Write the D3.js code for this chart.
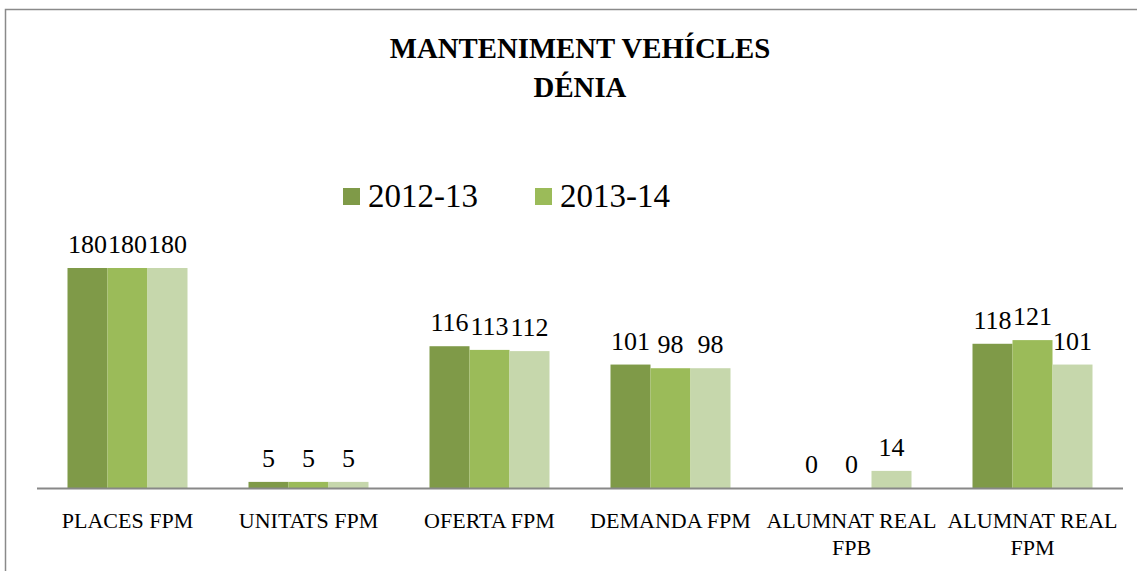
<!DOCTYPE html>
<html><head><meta charset="utf-8">
<script src="https://cdn.jsdelivr.net/npm/d3@7"></script>
<style>body{margin:0;background:#fff}svg{display:block}</style>
</head><body>
<script>
const categories = [["PLACES FPM"],["UNITATS FPM"],["OFERTA FPM"],["DEMANDA FPM"],["ALUMNAT REAL","FPB"],["ALUMNAT REAL","FPM"]];
const seriesNames = ["2012-13","2013-14","2014-15"];
const legendNames = ["2012-13","2013-14"];
const s2012 = [180,5,116,101,0,118];
const s2013 = [180,5,113,98,0,121];
const s2014 = [180,5,112,98,14,101];
const seriesValues = [s2012,s2013,s2014];
const colors = ["#7f9a48","#9bbb59","#c6d7ac"];

const W=1137,H=571;
const svg=d3.select("body").append("svg").attr("width",W).attr("height",H);
svg.append("rect").attr("width",W).attr("height",H).attr("fill","#fff");
// frame
svg.append("path").attr("d",`M5.5,${H} V9.5 H${W}`).attr("fill","none").attr("stroke","#8a8a8a").attr("stroke-width",1.5);

const font="'Liberation Serif', 'Times New Roman', serif";
const x0=d3.scaleBand().domain(d3.range(categories.length)).range([37,1123]).padding(0);
const x1=d3.scaleBand().domain(d3.range(seriesNames.length)).range([0,x0.bandwidth()]).paddingInner(0).paddingOuter(0.7625);
const y=d3.scaleLinear().domain([0,200]).range([488,488-200*220/180]);

const g=svg.append("g");
seriesValues.forEach((vals,si)=>{
  g.selectAll(null).data(vals).join("rect")
    .attr("x",(d,i)=>x0(i)+x1(si)).attr("width",x1.bandwidth())
    .attr("y",d=>y(d)).attr("height",d=>y(0)-y(d)).attr("fill",colors[si]);
  g.selectAll(null).data(vals).join("text")
    .attr("x",(d,i)=>x0(i)+x1(si)+x1.bandwidth()/2).attr("y",d=>y(d)-15)
    .attr("text-anchor","middle").attr("font-family",font).attr("font-size",26).attr("fill","#000")
    .text(d=>d);
});
// axis line
svg.append("line").attr("x1",37).attr("x2",1123).attr("y1",488.5).attr("y2",488.5).attr("stroke","#888").attr("stroke-width",2);
// category labels
categories.forEach((lines,i)=>{
  const t=svg.append("text").attr("text-anchor","middle").attr("font-family",font).attr("font-size",22).attr("fill","#000");
  lines.forEach((l,k)=>t.append("tspan").attr("x",x0(i)+x0.bandwidth()/2).attr("y",528+k*27).text(l));
});
// title
const tt=svg.append("text").attr("text-anchor","middle").attr("font-family",font).attr("font-weight","bold").attr("font-size",28.8).attr("fill","#000");
tt.append("tspan").attr("x",580).attr("y",58).text("MANTENIMENT VEHÍCLES");
tt.append("tspan").attr("x",580).attr("y",97).text("DÉNIA");
// legend
const lx=[343,535];
legendNames.forEach((n,i)=>{
  svg.append("rect").attr("x",lx[i]).attr("y",188).attr("width",17).attr("height",17).attr("fill",colors[i]);
  svg.append("text").attr("x",lx[i]+25).attr("y",207).attr("font-family",font).attr("font-size",33).attr("fill","#000").text(n);
});
</script>
</body></html>
